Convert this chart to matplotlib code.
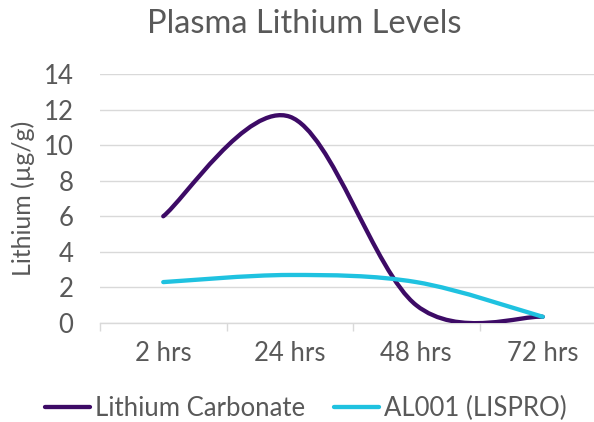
import matplotlib
matplotlib.use("Agg")
import matplotlib.pyplot as plt
from matplotlib.path import Path
from matplotlib.patches import PathPatch
from matplotlib.lines import Line2D

plt.rcParams['font.family'] = ['Lato', 'DejaVu Sans']

categories = ["2 hrs", "24 hrs", "48 hrs", "72 hrs"]
lithium_carbonate = [6.0, 11.6, 1.0, 0.35]
al001 = [2.3, 2.7, 2.3, 0.35]
series_names = ["Lithium Carbonate", "AL001 (LISPRO)"]
colors = ["#3D0B66", "#1FC2E0"]
title = "Plasma Lithium Levels"
ylabel = "Lithium (µg/g)"
yticks = [0, 2, 4, 6, 8, 10, 12, 14]

TXT = "#595959"
GRID = "#D9D9D9"
FS = 18.5

fig = plt.figure(figsize=(5.94, 4.22), dpi=100)
ax = fig.add_axes([100/594, 99/422, 506/594, 249/422])


def smooth_path(xs, ys):
    # Excel-style smoothed line: cubic Bezier segments with Catmull-Rom tangents
    n = len(xs)
    verts = [(xs[0], ys[0])]
    codes = [Path.MOVETO]
    for i in range(n - 1):
        p0 = (xs[max(i - 1, 0)], ys[max(i - 1, 0)])
        p1 = (xs[i], ys[i])
        p2 = (xs[i + 1], ys[i + 1])
        p3 = (xs[min(i + 2, n - 1)], ys[min(i + 2, n - 1)])
        c1 = (p1[0] + (p2[0] - p0[0]) / 6, p1[1] + (p2[1] - p0[1]) / 6)
        c2 = (p2[0] - (p3[0] - p1[0]) / 6, p2[1] - (p3[1] - p1[1]) / 6)
        verts += [c1, c2, p2]
        codes += [Path.CURVE4] * 3
    return Path(verts, codes)


xs = list(range(len(categories)))
handles = []
for vals, name, col in zip([lithium_carbonate, al001], series_names, colors):
    patch = PathPatch(smooth_path(xs, vals), fill=False, edgecolor=col,
                      lw=3.1, capstyle='round', joinstyle='round', zorder=3)
    ax.add_patch(patch)
    handles.append(Line2D([], [], color=col, lw=3.1, solid_capstyle='round', label=name))

ax.set_xlim(-0.5, len(categories) - 0.5)
ax.set_ylim(0, 14)
ax.set_yticks(yticks)
ax.set_yticklabels([str(v) for v in yticks])
ax.set_xticks(xs)
ax.set_xticklabels(categories)
ax.set_xticks([i - 0.5 for i in range(len(categories) + 1)], minor=True)

for s in ['top', 'right', 'left']:
    ax.spines[s].set_visible(False)
ax.spines['bottom'].set_color(GRID)
ax.spines['bottom'].set_linewidth(1.0)
ax.grid(axis='y', color=GRID, lw=1.0)
ax.set_axisbelow(True)

ax.tick_params(axis='y', length=0, pad=19, labelsize=FS, labelcolor=TXT)
ax.tick_params(axis='x', which='major', length=0, pad=13, labelsize=FS, labelcolor=TXT)
ax.tick_params(axis='x', which='minor', length=6, width=1.0, color=GRID)

ax.set_ylabel(ylabel, fontsize=18, color=TXT, va='center')
ax.yaxis.set_label_coords(-(100 - 23) / 506, 0.5)

fig.text(304/594, 1 - 24/422, title, ha='center', va='center', fontsize=23.5, color=TXT)

fig.legend(handles=handles, loc='center', bbox_to_anchor=(306/594, 1 - 408/422),
           ncol=2, frameon=False, fontsize=FS, handlelength=1.75,
           handletextpad=0.2, columnspacing=1.1, labelcolor=TXT)

fig.savefig("out.png", dpi=100)
